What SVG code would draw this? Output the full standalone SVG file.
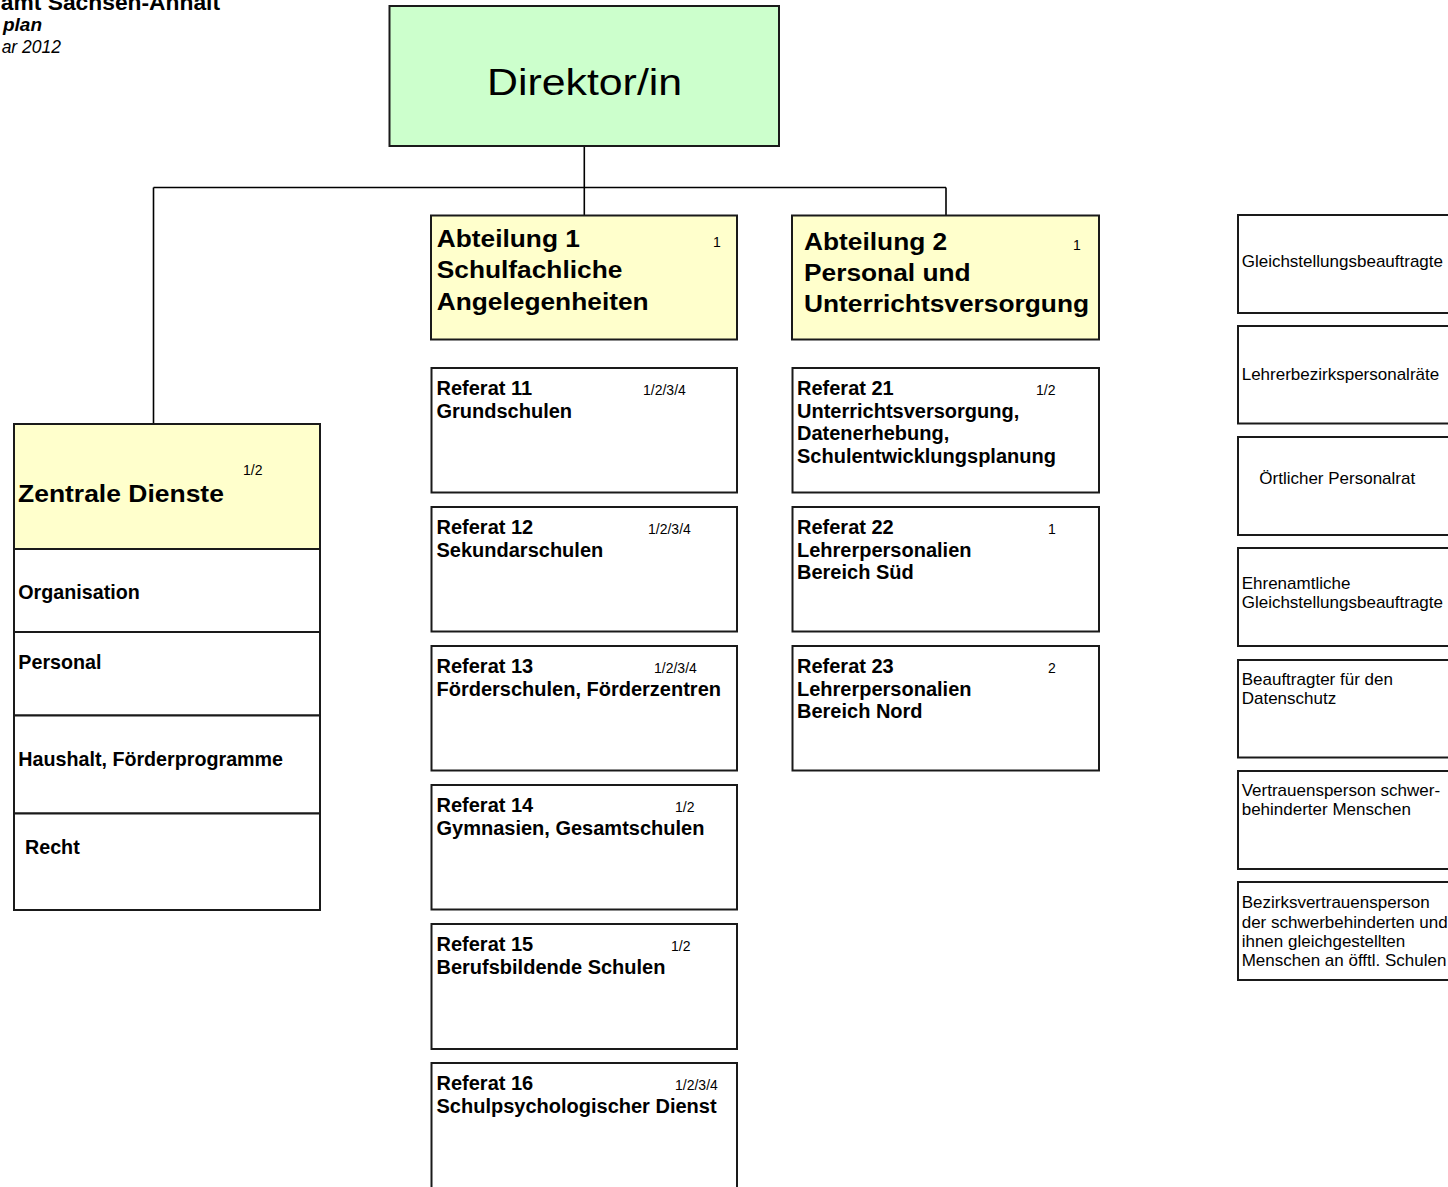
<svg xmlns="http://www.w3.org/2000/svg" width="1448" height="1187" viewBox="0 0 1448 1187">
<style>
  .box{fill:#ffffff;stroke:#1a1a1a;stroke-width:2}
  .yel{fill:#ffffcc;stroke:#1a1a1a;stroke-width:2}
  .grn{fill:#ccffcc;stroke:#1a1a1a;stroke-width:2}
  .con{fill:none;stroke:#000;stroke-width:1.6}
  text{font-family:"Liberation Sans",Arial,sans-serif;fill:#000}
  .b20{font-size:20px;font-weight:bold}
  .big{font-size:23.5px;font-weight:bold}
  .num{font-size:14px}
  .r17{font-size:17px}
</style>
<rect width="1448" height="1187" fill="#ffffff"/>

<g id="header">
  <text x="220" y="9.5" text-anchor="end" style="font-size:22.8px;font-weight:bold">amt Sachsen-Anhalt</text>
  <text x="42" y="31" text-anchor="end" style="font-size:19px;font-weight:bold;font-style:italic">plan</text>
  <text x="61" y="53" text-anchor="end" style="font-size:17.5px;font-style:italic">ar 2012</text>
</g>

<g id="connectors">
  <line class="con" x1="584.3" y1="146" x2="584.3" y2="215"/>
  <line class="con" x1="153.5" y1="187.5" x2="946" y2="187.5"/>
  <line class="con" x1="946" y1="187.5" x2="946" y2="215"/>
  <line class="con" x1="153.5" y1="187.5" x2="153.5" y2="424"/>
</g>

<g id="direktor">
  <rect class="grn" x="389.5" y="6" width="389.5" height="140"/>
  <text transform="translate(487 95) scale(1.19 1)" style="font-size:36px">Direktor/in</text>
</g>

<g id="abteilung1">
  <rect class="yel" x="431" y="215.5" width="306" height="124"/>
  <text class="big" transform="translate(436.7 246.7) scale(1.12 1)"><tspan x="0" y="0">Abteilung 1</tspan><tspan x="0" y="31.5">Schulfachliche</tspan><tspan x="0" y="63">Angelegenheiten</tspan></text>
  <text class="num" x="713" y="247">1</text>
</g>

<g id="abteilung2">
  <rect class="yel" x="792" y="215.5" width="307" height="124"/>
  <text class="big" transform="translate(804 249.5) scale(1.12 1)"><tspan x="0" y="0">Abteilung 2</tspan><tspan x="0" y="31.5">Personal und</tspan><tspan x="0" y="63">Unterrichtsversorgung</tspan></text>
  <text class="num" x="1073" y="250">1</text>
</g>

<g id="zentrale-dienste">
  <rect class="yel" x="14" y="424" width="306" height="125"/>
  <text class="big" transform="translate(18 501.7) scale(1.127 1)">Zentrale Dienste</text>
  <text class="num" x="243" y="475">1/2</text>
</g>
<g id="organisation">
  <rect class="box" x="14" y="549" width="306" height="83"/>
  <text class="b20" x="18.3" y="599.3" style="font-size:19.7px">Organisation</text>
</g>
<g id="personal">
  <rect class="box" x="14" y="632" width="306" height="83.5"/>
  <text class="b20" x="18.3" y="669" style="font-size:19.7px">Personal</text>
</g>
<g id="haushalt">
  <rect class="box" x="14" y="715.5" width="306" height="98"/>
  <text class="b20" x="18.3" y="766" style="font-size:19.7px">Haushalt, Förderprogramme</text>
</g>
<g id="recht">
  <rect class="box" x="14" y="813.5" width="306" height="96.5"/>
  <text class="b20" x="25" y="854.3" style="font-size:19.7px">Recht</text>
</g>

<g id="referat11">
  <rect class="box" x="431.5" y="368" width="305.5" height="124.5"/>
  <text class="b20" x="436.5" y="395.3"><tspan>Referat 11</tspan><tspan x="436.5" dy="22.6">Grundschulen</tspan></text>
  <text class="num" x="643" y="395.3">1/2/3/4</text>
</g>
<g id="referat12">
  <rect class="box" x="431.5" y="507" width="305.5" height="124.5"/>
  <text class="b20" x="436.5" y="534.3"><tspan>Referat 12</tspan><tspan x="436.5" dy="22.6">Sekundarschulen</tspan></text>
  <text class="num" x="648" y="534.3">1/2/3/4</text>
</g>
<g id="referat13">
  <rect class="box" x="431.5" y="646" width="305.5" height="124.5"/>
  <text class="b20" x="436.5" y="673.3"><tspan>Referat 13</tspan><tspan x="436.5" dy="22.6">Förderschulen, Förderzentren</tspan></text>
  <text class="num" x="654" y="673.3">1/2/3/4</text>
</g>
<g id="referat14">
  <rect class="box" x="431.5" y="785" width="305.5" height="124.5"/>
  <text class="b20" x="436.5" y="812.3"><tspan>Referat 14</tspan><tspan x="436.5" dy="22.6">Gymnasien, Gesamtschulen</tspan></text>
  <text class="num" x="675" y="812.3">1/2</text>
</g>
<g id="referat15">
  <rect class="box" x="431.5" y="924" width="305.5" height="125"/>
  <text class="b20" x="436.5" y="951.3"><tspan>Referat 15</tspan><tspan x="436.5" dy="22.6">Berufsbildende Schulen</tspan></text>
  <text class="num" x="671" y="951.3">1/2</text>
</g>
<g id="referat16">
  <rect class="box" x="431.5" y="1063" width="305.5" height="140"/>
  <text class="b20" x="436.5" y="1090.3"><tspan>Referat 16</tspan><tspan x="436.5" dy="22.6">Schulpsychologischer Dienst</tspan></text>
  <text class="num" x="675" y="1090.3">1/2/3/4</text>
</g>

<g id="referat21">
  <rect class="box" x="792.5" y="368" width="306.5" height="124.5"/>
  <text class="b20" x="797" y="395.3"><tspan>Referat 21</tspan><tspan x="797" dy="22.5">Unterrichtsversorgung,</tspan><tspan x="797" dy="22.5">Datenerhebung,</tspan><tspan x="797" dy="22.5">Schulentwicklungsplanung</tspan></text>
  <text class="num" x="1036" y="395.3">1/2</text>
</g>
<g id="referat22">
  <rect class="box" x="792.5" y="507" width="306.5" height="124.5"/>
  <text class="b20" x="797" y="534.3"><tspan>Referat 22</tspan><tspan x="797" dy="22.5">Lehrerpersonalien</tspan><tspan x="797" dy="22.5">Bereich Süd</tspan></text>
  <text class="num" x="1048" y="534.3">1</text>
</g>
<g id="referat23">
  <rect class="box" x="792.5" y="646" width="306.5" height="124.5"/>
  <text class="b20" x="797" y="673.3"><tspan>Referat 23</tspan><tspan x="797" dy="22.5">Lehrerpersonalien</tspan><tspan x="797" dy="22.5">Bereich Nord</tspan></text>
  <text class="num" x="1048" y="673.3">2</text>
</g>

<g id="gleichstellungsbeauftragte">
  <rect class="box" x="1238" y="215" width="230" height="98"/>
  <text class="r17" x="1241.7" y="266.5">Gleichstellungsbeauftragte</text>
</g>
<g id="lehrerbezirkspersonalraete">
  <rect class="box" x="1238" y="326" width="230" height="97.5"/>
  <text class="r17" x="1241.7" y="379.5">Lehrerbezirkspersonalräte</text>
</g>
<g id="oertlicher-personalrat">
  <rect class="box" x="1238" y="437" width="230" height="98"/>
  <text class="r17" x="1259.3" y="484">Örtlicher Personalrat</text>
</g>
<g id="ehrenamtliche-gleichstellungsbeauftragte">
  <rect class="box" x="1238" y="548" width="230" height="98"/>
  <text class="r17" x="1241.7" y="588.5"><tspan>Ehrenamtliche</tspan><tspan x="1241.7" dy="19">Gleichstellungsbeauftragte</tspan></text>
</g>
<g id="datenschutz">
  <rect class="box" x="1238" y="660" width="230" height="97.5"/>
  <text class="r17" x="1241.7" y="685"><tspan>Beauftragter für den</tspan><tspan x="1241.7" dy="19.3">Datenschutz</tspan></text>
</g>
<g id="vertrauensperson">
  <rect class="box" x="1238" y="771" width="230" height="98"/>
  <text class="r17" x="1241.7" y="795.5"><tspan>Vertrauensperson schwer-</tspan><tspan x="1241.7" dy="19.3">behinderter Menschen</tspan></text>
</g>
<g id="bezirksvertrauensperson">
  <rect class="box" x="1238" y="882" width="230" height="98"/>
  <text class="r17" x="1241.7" y="908.3"><tspan>Bezirksvertrauensperson</tspan><tspan x="1241.7" dy="19.3">der schwerbehinderten und</tspan><tspan x="1241.7" dy="19.3">ihnen gleichgestellten</tspan><tspan x="1241.7" dy="19.3">Menschen an öfftl. Schulen</tspan></text>
</g>
</svg>
